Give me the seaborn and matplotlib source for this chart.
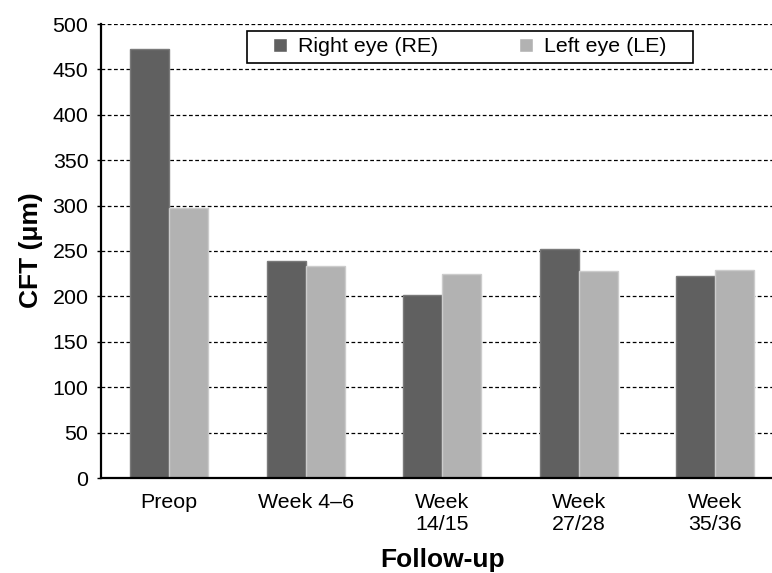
import numpy as np
import pandas as pd
import matplotlib
matplotlib.use("Agg")
import matplotlib.pyplot as plt
from matplotlib.patches import Rectangle
import seaborn as sns

# Data
categories = ["Preop", "Week 4\u20136", "Week\n14/15", "Week\n27/28", "Week\n35/36"]
right_eye = [473, 239, 201, 252, 222]
left_eye = [297, 234, 225, 228, 229]
series_names = ["Right eye (RE)", "Left eye (LE)"]
y_ticks = [0, 50, 100, 150, 200, 250, 300, 350, 400, 450, 500]

df = pd.DataFrame({
    "Follow-up": categories * 2,
    "CFT": right_eye + left_eye,
    "Eye": [series_names[0]] * len(categories) + [series_names[1]] * len(categories),
})

sns.set_style("white")
plt.rcParams["font.family"] = ["Liberation Sans", "DejaVu Sans"]
plt.rcParams["text.color"] = "black"
plt.rcParams["axes.labelcolor"] = "black"
plt.rcParams["xtick.color"] = "black"
plt.rcParams["ytick.color"] = "black"

fig = plt.figure(figsize=(7.72, 5.73), dpi=100)
# plot area runs slightly past the right edge, as in the cropped original
ax = fig.add_axes([101 / 772, 95 / 573, 682.5 / 772, 454 / 573])

sns.barplot(data=df, x="Follow-up", y="CFT", hue="Eye", order=categories,
            hue_order=series_names, palette=["#606060", "#b2b2b2"],
            width=0.57, saturation=1, ax=ax, legend=True)
for patch, ec in zip(ax.patches, ["#7a7a7a"] * 5 + ["#cccccc"] * 5):
    patch.set_edgecolor(ec)
    patch.set_linewidth(1)

ax.set_ylim(0, 500)
ax.set_xlim(-0.5, len(categories) - 0.5)
ax.set_yticks(y_ticks)
ax.yaxis.grid(True, color="black", linestyle=(0, (3, 2)), linewidth=0.9)
ax.set_axisbelow(True)

for side in ["top", "right"]:
    ax.spines[side].set_visible(False)
for side in ["left", "bottom"]:
    ax.spines[side].set_color("black")
    ax.spines[side].set_linewidth(1.6)

ax.tick_params(axis="y", which="major", left=True, length=3, width=1,
               color="black", labelcolor="black", labelsize=15.4, pad=6)
ax.tick_params(axis="x", bottom=False, labelcolor="black", labelsize=15.4, pad=7)

ax.set_ylabel("CFT (\u03bcm)", fontsize=19, fontweight="bold", color="black")
ax.yaxis.set_label_coords(-0.085, 0.501)
ax.set_xlabel("")
fig.text(443 / 772, 1 - 560 / 573, "Follow-up", fontsize=19, fontweight="bold",
         ha="center", va="center", color="black")

handles, labels = ax.get_legend_handles_labels()
ax.get_legend().remove()
leg = fig.legend(handles, labels, loc="center left",
                 bbox_to_anchor=(273 / 772, 1 - 47 / 573), ncol=2,
                 fontsize=15.4, frameon=False, borderpad=0,
                 handlelength=0.65, handleheight=0.65, handletextpad=0.5,
                 columnspacing=3.8, borderaxespad=0, labelcolor="black")
# legend frame drawn as a plain box, wider than the entries
fig.patches.append(Rectangle((247 / 772, 1 - 63 / 573), 446 / 772, 32 / 573,
                             transform=fig.transFigure, fill=True,
                             facecolor="white", edgecolor="black",
                             linewidth=1.2, zorder=2))
leg.set_zorder(3)

fig.savefig("out.png", dpi=100)
